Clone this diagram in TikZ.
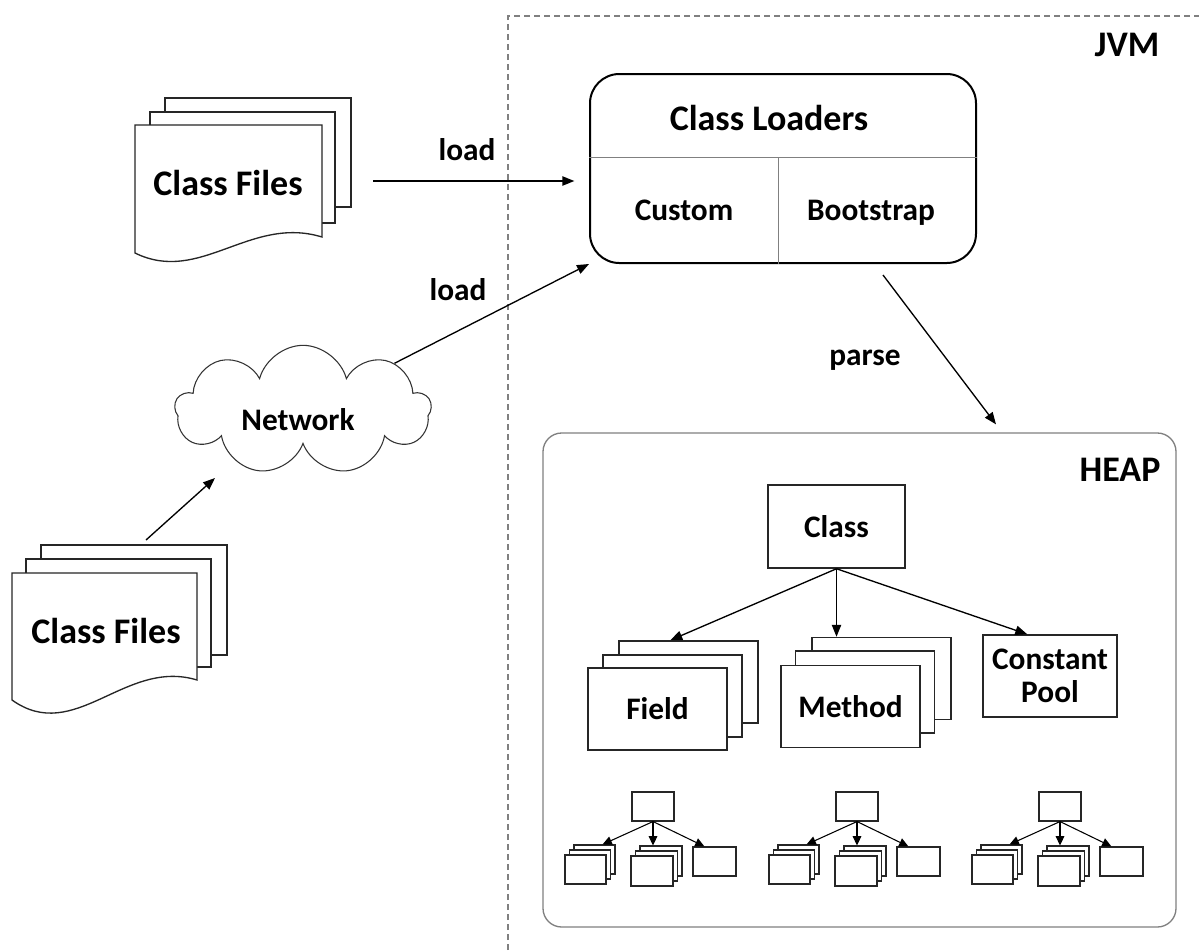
\documentclass[tikz,border=0pt]{standalone}
\usepackage{fontspec}
\setmainfont{Carlito}
\usetikzlibrary{arrows.meta,shapes.symbols,calc}
\begin{document}
\begin{tikzpicture}[x=0.75pt,y=-0.75pt,
  arr/.style={line width=1pt,-{Triangle[length=9pt,width=7pt]}},
  sarr/.style={line width=0.8pt,-{Triangle[length=7pt,width=6.5pt]}},
  page/.style={draw=black!85,line width=1pt,fill=white},
  txtbig/.style={font=\bfseries\fontsize{27}{30}\selectfont},
  txtmid/.style={font=\bfseries\fontsize{23.5}{25}\selectfont},
  box/.style={draw=black!85,line width=1.1pt,fill=white,inner sep=0pt},
  sbox/.style={draw=black!85,line width=0.8pt,fill=white,inner sep=0pt},
]
\useasboundingbox (0,0) rectangle (1199,950);

% JVM frame
\draw[gray,line width=0.8pt,dash pattern=on 4.5pt off 3pt] (508,950) -- (508,16) -- (1199,16);
\node[txtbig] (jvm) at (1127,45) {JVM};

% Class loaders
\node[draw,line width=1.5pt,rounded corners=22pt,minimum width=289.5pt,minimum height=141.75pt,inner sep=0pt] (cl) at (783,168.5) {};
\draw[gray,line width=0.7pt] (cl.west |- 0,157) -- (cl.east |- 0,157);
\draw[gray,line width=0.7pt] (778,157) -- (cl.south -| 778,0);
\node[txtbig] (clt) at (769,118) {Class Loaders};
\node[txtmid,anchor=base] (cust) at (684,220) {Custom};
\node[txtmid,anchor=base] (boot) at (871,220) {Bootstrap};

% top class files
\filldraw[page] (165,98) rectangle (351,207);
\filldraw[page] (150,112) rectangle (335,223);
\filldraw[page] (135,125) -- (322,125) -- (322,237) .. controls (250,215) and (200,285) .. (135,253) -- cycle;
\node[txtbig] (cf1) at (228,183) {Class Files};
\coordinate (cf1out) at (373,181);
\draw[arr,shorten >=11pt] (cf1out) -- (cf1out -| cl.west);
\node[txtmid] (load1) at (467,150) {load};

% cloud
\node[cloud,draw=black!80,line width=0.8pt,cloud puffs=9,cloud ignores aspect,minimum width=192pt,minimum height=97pt,inner sep=0pt] (net) at (303,410) {};
\node[txtmid] (nett) at (298,420) {Network};
\draw[arr] (net) -- (cl.south west);
\node[txtmid] (load2) at (458,290) {load};

% bottom class files
\filldraw[page] (41,545) rectangle (227,655);
\filldraw[page] (26,559) rectangle (211,667);
\filldraw[page] (12,573) -- (197,573) -- (197,680) .. controls (125,658) and (75,745) .. (12,700) -- cycle;
\node[txtbig] (cf2) at (106,631) {Class Files};
\coordinate (cf2out) at (146,540);
\coordinate (netin) at (215,478);
\draw[arr] (cf2out) -- (netin);

% heap
\node[draw=gray,line width=1pt,rounded corners=14pt,minimum width=474.75pt,minimum height=370.5pt,inner sep=0pt] (heap) at (859.5,680) {};
\node[txtbig] (heapt) at (1120,470) {HEAP};

% parse
\draw[arr] ($(cl.south)+(100,11)$) -- ($(heap.north)+(136.5,-8)$);
\node[txtmid] (parse) at (865,360) {parse};

% class
\node[box,txtmid,minimum width=102.75pt,minimum height=62.25pt] (cls) at (836.5,526.5) {Class};

% field stack
\node[box,minimum width=104.25pt,minimum height=61.5pt] (fb) at (688.5,682) {};
\node[box,minimum width=104.25pt,minimum height=61.5pt] (fm) at (672.5,696) {};
\node[box,txtmid,minimum width=104.25pt,minimum height=61.5pt] (ff) at (657.5,709) {Field};

% method stack
\node[box,minimum width=104.25pt,minimum height=61.5pt] (mb) at (881.5,678.5) {};
\node[box,minimum width=104.25pt,minimum height=61.5pt] (mm) at (865,692) {};
\node[box,txtmid,minimum width=104.25pt,minimum height=61.5pt] (mf) at (850.5,706.5) {Method};

% constant pool
\node[box,txtmid,align=center,minimum width=100.5pt,minimum height=61.5pt] (cp) at (1050,676) {Constant\\Pool};

\draw[arr] (cls.south) -- ($(fb.north west)!0.37!(fb.north east)$);
\draw[arr] (cls.south) -- (cls.south |- mb.north);
\draw[arr] (cls.south) -- ($(cp.north west)+(45,0)$);

% small trees
\foreach \dx/\t in {0/a,204/b,407/c} {
  \node[sbox,minimum width=31.5pt,minimum height=21.75pt] (r\t) at ({653+\dx},806.5) {};
  \node[sbox,minimum width=30.75pt,minimum height=21.75pt] (lb\t) at ({594.5+\dx},859.5) {};
  \node[sbox,minimum width=30.75pt,minimum height=21.75pt] (lm\t) at ({590+\dx},864.5) {};
  \node[sbox,minimum width=30.75pt,minimum height=21.75pt] (lf\t) at ({585.5+\dx},869.5) {};
  \node[sbox,minimum width=31.5pt,minimum height=22.5pt] (mb\t) at ({661+\dx},861) {};
  \node[sbox,minimum width=31.5pt,minimum height=22.5pt] (mm\t) at ({656.5+\dx},866) {};
  \node[sbox,minimum width=31.5pt,minimum height=22.5pt] (mf\t) at ({652+\dx},871) {};
  \node[sbox,minimum width=32.25pt,minimum height=21.75pt] (rb\t) at ({714.5+\dx},861.5) {};
  \draw[sarr] (r\t.south) -- ($(lb\t.north)+(8,0)$);
  \draw[sarr] (r\t.south) -- (r\t.south |- mb\t.north);
  \draw[sarr] (r\t.south) -- ($(rb\t.north west)+(12,0)$);
}
\end{tikzpicture}
\end{document}
